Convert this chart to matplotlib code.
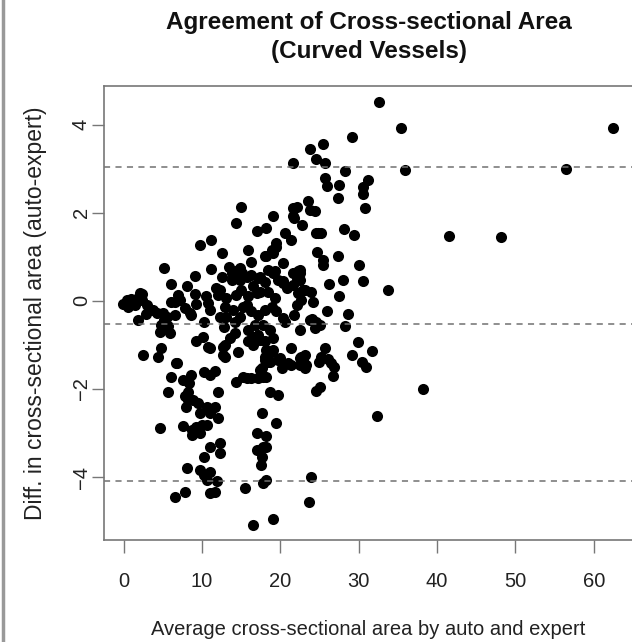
import numpy as np
import matplotlib.pyplot as plt
from matplotlib.lines import Line2D

plt.rcParams['font.family'] = ['Liberation Sans', 'DejaVu Sans']

# averages (auto+expert)/2 and differences (auto-expert)
avg_near0 = [0.4, -0.1, 0.6, 1.4, 1.8, 2.3, 2.1, 2.3, 1.9, 1.0, 2.8, 3.0, 3.3, 3.8, 4.3, 5.0,
             5.5, 5.1, 4.8, 5.7, 4.6, 5.9, 5.3, 5.2, 6.0, 2.5, 4.4, 4.8, 4.6]
diff_near0 = [0.02, -0.08, -0.13, -0.09, 0.06, 0.15, 0.17, 0.02, -0.43, 0.05, -0.30, -0.10, -0.20, -0.20, -0.28, -0.28,
              -0.36, -0.43, -0.55, -0.58, -0.70, -0.73, -0.62, 0.74, 0.38, -1.23, -1.27, -1.08, -2.89]

avg_low = [6.9, 6.5, 6.1, 7.2, 8.05, 9.1, 9.1, 8.5, 8.6, 9.3, 7.8, 6.5, 10.3, 10.5, 10.8, 11.0,
           11.1, 9.7, 11.2, 12.5, 11.8, 12.0, 12.3, 12.5, 10.1, 9.3, 10.8, 11.0, 6.7, 6.0,
           7.6, 8.6, 8.4, 10.3, 11.0, 11.6, 5.7, 8.2, 12.0, 7.8, 8.25, 7.96, 8.9, 9.5, 9.7,
           10.6, 11.0, 11.7, 12.1, 7.6, 8.7, 9.3, 10.0, 10.6, 8.7, 9.7, 12.3, 12.3, 11.0,
           10.2, 8.05, 9.7, 10.2, 10.6, 11.0, 11.9, 11.7, 11.0, 7.8, 6.6, 6.8]
diff_low = [0.14, -0.02, -0.02, 0.02, 0.33, 0.57, 0.15, -0.28, -0.32, -0.06, -0.17, -0.32, -0.47, 0.10, -0.05, -0.20,
            0.72, 1.28, 1.39, 1.08, 0.29, 0.14, 0.25, 0.55, -0.81, -0.92, -1.04, -1.08, -1.40, -1.72,
            -1.80, -1.68, -1.87, -1.61, -1.68, -1.59, -2.06, -2.06, -2.06, -2.17, -2.25, -2.40, -2.25, -2.33, -2.55,
            -2.40, -2.55, -2.40, -2.67, -2.84, -2.93, -2.86, -2.82, -2.82, -3.05, -3.00, -3.23, -3.46, -3.31,
            -3.54, -3.80, -3.84, -3.95, -4.07, -3.88, -4.10, -4.33, -4.37, -4.33, -4.46, -1.42]

avg_mid = [12.9, 12.7, 12.7, 12.9, 14.6, 14.4, 15.2, 12.3, 13.1, 14.2, 14.8, 14.2, 13.1, 14.4,
           13.4, 14.4, 13.8, 14.8, 13.8, 14.8, 15.1, 15.7, 15.0, 14.3, 15.9, 15.9, 15.7, 15.9,
           15.5, 15.7, 15.9, 13.0, 14.0, 15.2, 15.0, 12.8, 13.6]
diff_mid = [-1.00, -1.23, -1.04, -1.27, -1.15, -1.85, -1.72, -0.36, -0.36, -0.47, -0.36, -0.73, 0.06, 0.14,
            0.78, 0.67, 0.48, 0.48, 0.63, 0.74, 0.63, 0.55, 2.14, 1.78, 1.16, 0.10, -0.09, -0.66,
            -4.26, -1.76, -0.92, -0.15, -0.20, -0.15, 0.25, -0.60, -0.85]

avg_mid2 = [16.5, 17.4, 18.2, 19.1, 16.3, 18.0, 18.9, 19.5, 17.0, 18.2, 19.1, 19.5, 18.2, 19.1,
            20.3, 20.6, 21.4, 16.3, 17.2, 18.0, 16.5, 17.4, 18.4, 19.3, 18.4, 19.1, 19.7, 20.4,
            20.8, 21.6, 22.3, 22.5, 22.5, 22.1, 21.6, 22.2, 19.3, 20.4, 17.4, 17.0,
            16.3, 17.2, 18.0, 18.9, 19.5, 16.75, 17.8, 18.7, 17.2, 18.0, 19.1, 16.5, 18.4, 20.6,
            20.4, 21.8, 22.1, 18.0, 18.4, 18.9, 17.6, 18.2, 17.2, 16.3, 17.8, 17.4, 18.7, 18.1,
            19.9, 19.7, 20.2, 21.4, 21.0, 21.3, 18.7, 19.7, 17.6, 19.4, 17.0, 18.2, 17.0, 17.8,
            18.2, 17.6, 17.5, 17.8, 18.2, 16.5, 19.1, 21.6, 21.6, 21.8, 22.1, 21.6]
diff_mid2 = [-0.81, -0.89, -1.11, -1.11, 0.89, 1.01, 1.16, 1.23, 1.59, 1.65, 1.92, 1.31, 1.01, 1.08,
             0.86, 1.54, 1.39, 0.59, 0.52, 0.44, 0.33, 0.21, 0.21, 0.06, 0.70, 0.63, 0.48, 0.40,
             0.29, 0.63, 0.67, 0.48, 0.70, 0.52, 0.36, 0.17, 0.67, 0.45, 0.55, 0.17,
             -0.24, -0.32, -0.20, -0.13, -0.24, -0.55, -0.55, -0.66, -0.77, -0.92, -0.85, -1.00, -1.15, -0.49,
             -0.39, -0.32, -0.09, -1.27, -1.38, -1.15, -1.53, -1.72, -1.76, -1.76, -1.72, -1.57, -1.38, -1.34,
             -1.30, -1.34, -1.53, -1.45, -1.42, -1.06, -2.06, -2.14, -2.55, -2.78, -3.00, -3.07, -3.39, -3.31,
             -3.31, -3.54, -3.73, -4.13, -4.07, -5.09, -4.96, 3.13, 2.12, 1.89, 2.14, 1.92]

avg_high = [22.5, 22.5, 22.5, 22.9, 23.1, 23.3, 23.1, 22.7, 23.1, 23.9, 24.2, 22.7, 22.9, 22.5,
            22.8, 23.5, 23.8, 24.4, 23.8, 25.5, 24.6, 25.7, 28.3, 25.7, 26.0, 27.5, 31.2, 30.5,
            30.5, 27.3, 30.8, 29.1, 32.6, 24.8, 24.6, 25.2, 28.1, 29.4, 24.7, 25.4, 25.5, 27.4,
            30.1, 26.2, 28.0, 30.5, 27.5, 26.0, 28.6, 24.0, 24.6, 25.0, 24.4, 28.2, 29.9, 29.1,
            31.7, 30.4, 30.9, 25.7, 25.2, 24.9, 26.1, 26.5, 26.9, 26.7, 24.5, 25.1, 32.3, 23.9,
            23.7, 23.8]
diff_high = [-0.66, -1.30, -1.45, -1.34, -1.23, -1.45, -1.53, -1.27, 0.25, 0.21, -0.02, 0.02, 0.25, 0.64,
             1.73, 2.27, 2.07, 2.03, 3.45, 3.57, 3.22, 3.14, 2.95, 2.80, 2.60, 2.63, 2.75, 2.58,
             2.43, 2.33, 2.11, 3.73, 4.52, 1.54, 1.55, 1.55, 1.63, 1.50, 1.11, 0.93, 0.82, 1.01,
             0.81, 0.39, 0.48, 0.45, 0.10, -0.23, -0.30, -0.41, -0.47, -0.55, -0.62, -0.57, -0.94, -1.23,
             -1.14, -1.38, -1.51, -1.08, -1.27, -1.38, -1.33, -1.42, -1.51, -1.70, -2.04, -1.96, -2.61, -4.01,
             -4.56, -0.43]

avg_out = [35.4, 35.9, 62.4, 56.5, 41.5, 48.1, 33.8, 38.2]
diff_out = [3.93, 2.98, 3.93, 3.00, 1.48, 1.45, 0.25, -2.00]

avg = np.array(avg_near0 + avg_low + avg_mid + avg_mid2 + avg_high + avg_out)
diff = np.array(diff_near0 + diff_low + diff_mid + diff_mid2 + diff_high + diff_out)

# mean difference and limits of agreement
mean_diff = -0.52
upper_loa = 3.05
lower_loa = -4.09

W, H = 632, 642
fig = plt.figure(figsize=(W / 100, H / 100), dpi=100)
ax = fig.add_axes([104 / W, (H - 540) / H, (633 - 104) / W, (540 - 86) / H])

ax.plot(avg, diff, 'o', color='black', markersize=8, markeredgewidth=0)
for yv in (mean_diff, upper_loa, lower_loa):
    ax.axhline(yv, color='#707070', linestyle=(0, (4, 3.5)), linewidth=1.1)

ax.set_xlim(-2.5, 65)
ax.set_ylim(-5.43, 4.88)
ax.set_xticks([0, 10, 20, 30, 40, 50, 60])
ax.set_yticks([-4, -2, 0, 2, 4])
for s in ax.spines.values():
    s.set_color('#777777')
    s.set_linewidth(1.2)
ax.tick_params(direction='out', length=9, width=1, color='#777777',
               labelsize=14.5, labelcolor='#222222')
ax.tick_params(axis='x', pad=14)
ax.tick_params(axis='y', pad=0.5)
plt.setp(ax.get_yticklabels(), rotation=90, va='center')

ax.set_xlabel('Average cross-sectional area by auto and expert', fontsize=14.5,
              color='#222222', labelpad=21)
ax.set_ylabel('Diff. in cross-sectional area (auto-expert)', fontsize=16.5,
              color='#222222', labelpad=18)
fig.text(369 / W, 1 - 37 / H, 'Agreement of Cross-sectional Area\n(Curved Vessels)',
         ha='center', va='center', fontsize=17.5, fontweight='bold',
         color='#111111', linespacing=1.35)

# grey frame line at the left edge of the picture
fig.add_artist(Line2D([3 / W, 3 / W], [0, 1], color='#999999', linewidth=2.5))

fig.savefig('out.png', dpi=100)
